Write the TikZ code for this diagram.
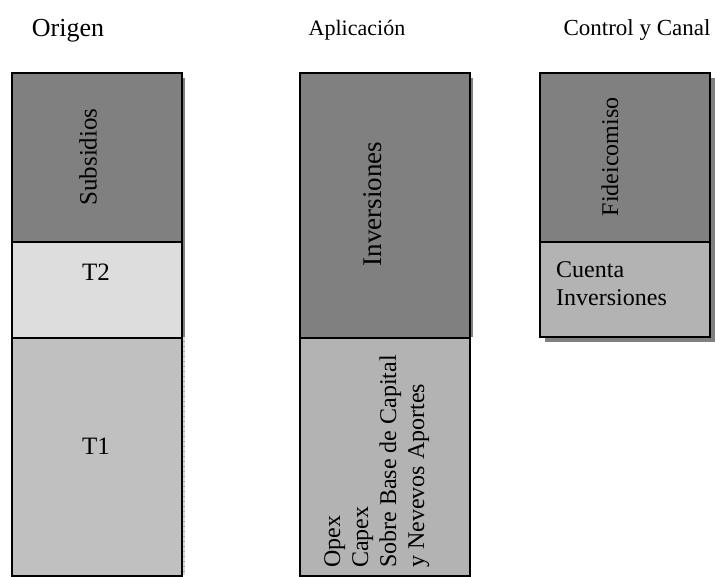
\documentclass[tikz,border=0pt]{standalone}
\usepackage{fontspec}
\setmainfont{Liberation Serif}
\definecolor{dkgray}{HTML}{808080}
\definecolor{ltgray}{HTML}{DDDDDD}
\definecolor{mdgray}{HTML}{C0C0C0}
\definecolor{bgray}{HTML}{B3B3B3}
\definecolor{shadelt}{HTML}{DADADA}
\definecolor{stripe}{HTML}{A8A8A8}
\begin{document}
\begin{tikzpicture}[x=1pt,y=-1pt,
  box/.style={draw=black, line width=1.6pt, inner sep=0pt, anchor=north west, minimum width=170pt},
  lbl/.style={font=\fontsize{25}{28}\selectfont, inner sep=0pt},
  small/.style={font=\fontsize{24}{28}\selectfont, inner sep=0pt},
  head/.style={inner sep=0pt}]
\useasboundingbox (0,0) rectangle (715,577);
% shadows
\fill[dkgray] (181,78) rectangle (185,337);
\fill[shadelt] (181,337) rectangle (185,575);
\foreach \yy in {341,346,...,575} \draw[stripe, line width=0.8pt] (181,\yy) -- (185,\yy);
\fill[dkgray] (469,78) rectangle (473,337);
\fill[dkgray] (709,78) rectangle (715,342);
\fill[dkgray] (545,336) rectangle (715,342);
% left column
\node[box, fill=dkgray, minimum height=169pt] (subs) at (11,72) {};
\node[box, fill=ltgray, minimum height=96pt] (t2) at (11,241) {};
\node[box, fill=mdgray, minimum height=238pt] (t1) at (11,337) {};
% middle column
\node[box, fill=dkgray, minimum height=265pt] (inv) at (299,72) {};
\node[box, fill=bgray, minimum height=238pt] (ope) at (299,337) {};
% right column
\node[box, fill=dkgray, minimum height=169pt] (fid) at (539,72) {};
\node[box, fill=bgray, minimum height=95pt] (cta) at (539,241) {};
% headings
\node[head, font=\fontsize{26}{30}\selectfont] (hO) at (68,31) {Origen};
\node[head, font=\fontsize{22}{26}\selectfont] (hA) at (357,30) {Aplicación};
\node[head, font=\fontsize{23}{27}\selectfont] (hC) at (637,30) {Control y Canal};
% labels
\node[lbl, rotate=90] (lsubs) at (88,157) {Subsidios};
\node[lbl, anchor=base] (lt2) at (96,281) {T2};
\node[lbl, anchor=base] (lt1) at (96,454) {T1};
\node[lbl, rotate=90, font=\fontsize{27}{30}\selectfont] (linv) at (373,204) {Inversiones};
\node[lbl, rotate=90, font=\fontsize{24}{28}\selectfont] (lfid) at (610,157) {Fideicomiso};
\node[small, anchor=base west] (lcta1) at (556,278) {Cuenta};
\node[small, anchor=base west] (lcta2) at (556,306) {Inversiones};
\node[small, rotate=90, anchor=north west, align=left] (lope) at (324,568) {Opex\\Capex\\Sobre Base de Capital\\y Nevevos Aportes};
\end{tikzpicture}
\end{document}
